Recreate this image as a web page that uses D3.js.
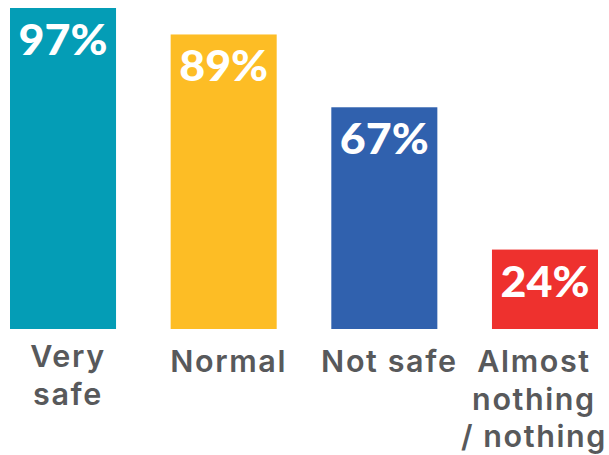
<!DOCTYPE html>
<html>
<head>
<meta charset="utf-8">
<script src="https://cdn.jsdelivr.net/npm/d3@7"></script>
<style>
  html, body { margin: 0; padding: 0; background: #fff; }
  svg { display: block; }
</style>
</head>
<body>
<svg id="chart" width="609" height="455"></svg>
<script>
// Share of respondents by perceived safety level
const categories = ["Very safe", "Normal", "Not safe", "Almost nothing / nothing"];
const categoryLines = [["Very", "safe"], ["Normal"], ["Not safe"], ["Almost", "nothing", "/ nothing"]];
const values = [97, 89, 67, 24];
const valueLabels = ["97%", "89%", "67%", "24%"];
const colors = ["#049db6", "#fdbd25", "#3061ae", "#ee312e"];

const W = 609, H = 455;
const baseY = 329, topY = 8;

const svg = d3.select("#chart");

const x = d3.scaleBand()
  .domain(categories)
  .range([10, 598])
  .paddingInner(0.34)
  .paddingOuter(0);

const y = d3.scaleLinear()
  .domain([0, d3.max(values)])
  .range([baseY, topY]);

const data = categories.map((c, i) => ({
  cat: c, value: values[i], label: valueLabels[i], color: colors[i], lines: categoryLines[i]
}));

// bars
svg.append("g").selectAll("rect")
  .data(data)
  .join("rect")
  .attr("x", d => x(d.cat))
  .attr("y", d => y(d.value))
  .attr("width", x.bandwidth())
  .attr("height", d => y(0) - y(d.value))
  .attr("fill", d => d.color);

// value labels inside bars
svg.append("g").selectAll("text")
  .data(data)
  .join("text")
  .attr("x", d => x(d.cat) + x.bandwidth() / 2)
  .attr("y", d => y(d.value) + 47)
  .attr("text-anchor", "middle")
  .attr("fill", "#ffffff")
  .style("font-family", "Lato, 'Open Sans', sans-serif")
  .style("font-weight", 900)
  .style("font-size", "42px")
  .attr("textLength", 89)
  .attr("lengthAdjust", "spacingAndGlyphs")
  .text(d => d.label);

// category labels below bars
const lineH = 37.5;
const catG = svg.append("g").selectAll("text")
  .data(data)
  .join("text")
  .attr("text-anchor", "middle")
  .attr("fill", "#58595b")
  .style("font-family", "Inter, Lato, sans-serif")
  .style("font-weight", 600)
  .style("font-size", "30.5px")
  .style("letter-spacing", "1.6px");

catG.selectAll("tspan")
  .data(d => d.lines)
  .join("tspan")
  .attr("x", 0)
  .attr("y", (d, i) => i * lineH)
  .text(d => d);

// centre each label under its bar, kept inside the right edge
catG.attr("transform", function (d) {
  const widest = d3.max(Array.from(this.querySelectorAll("tspan")), t => t.getComputedTextLength());
  const cx = Math.min(x(d.cat) + x.bandwidth() / 2 + 5, W - 2 - widest / 2);
  const y0 = d.lines.length === 2 ? 367 : 372;
  return `translate(${cx},${y0})`;
});
</script>
</body>
</html>
